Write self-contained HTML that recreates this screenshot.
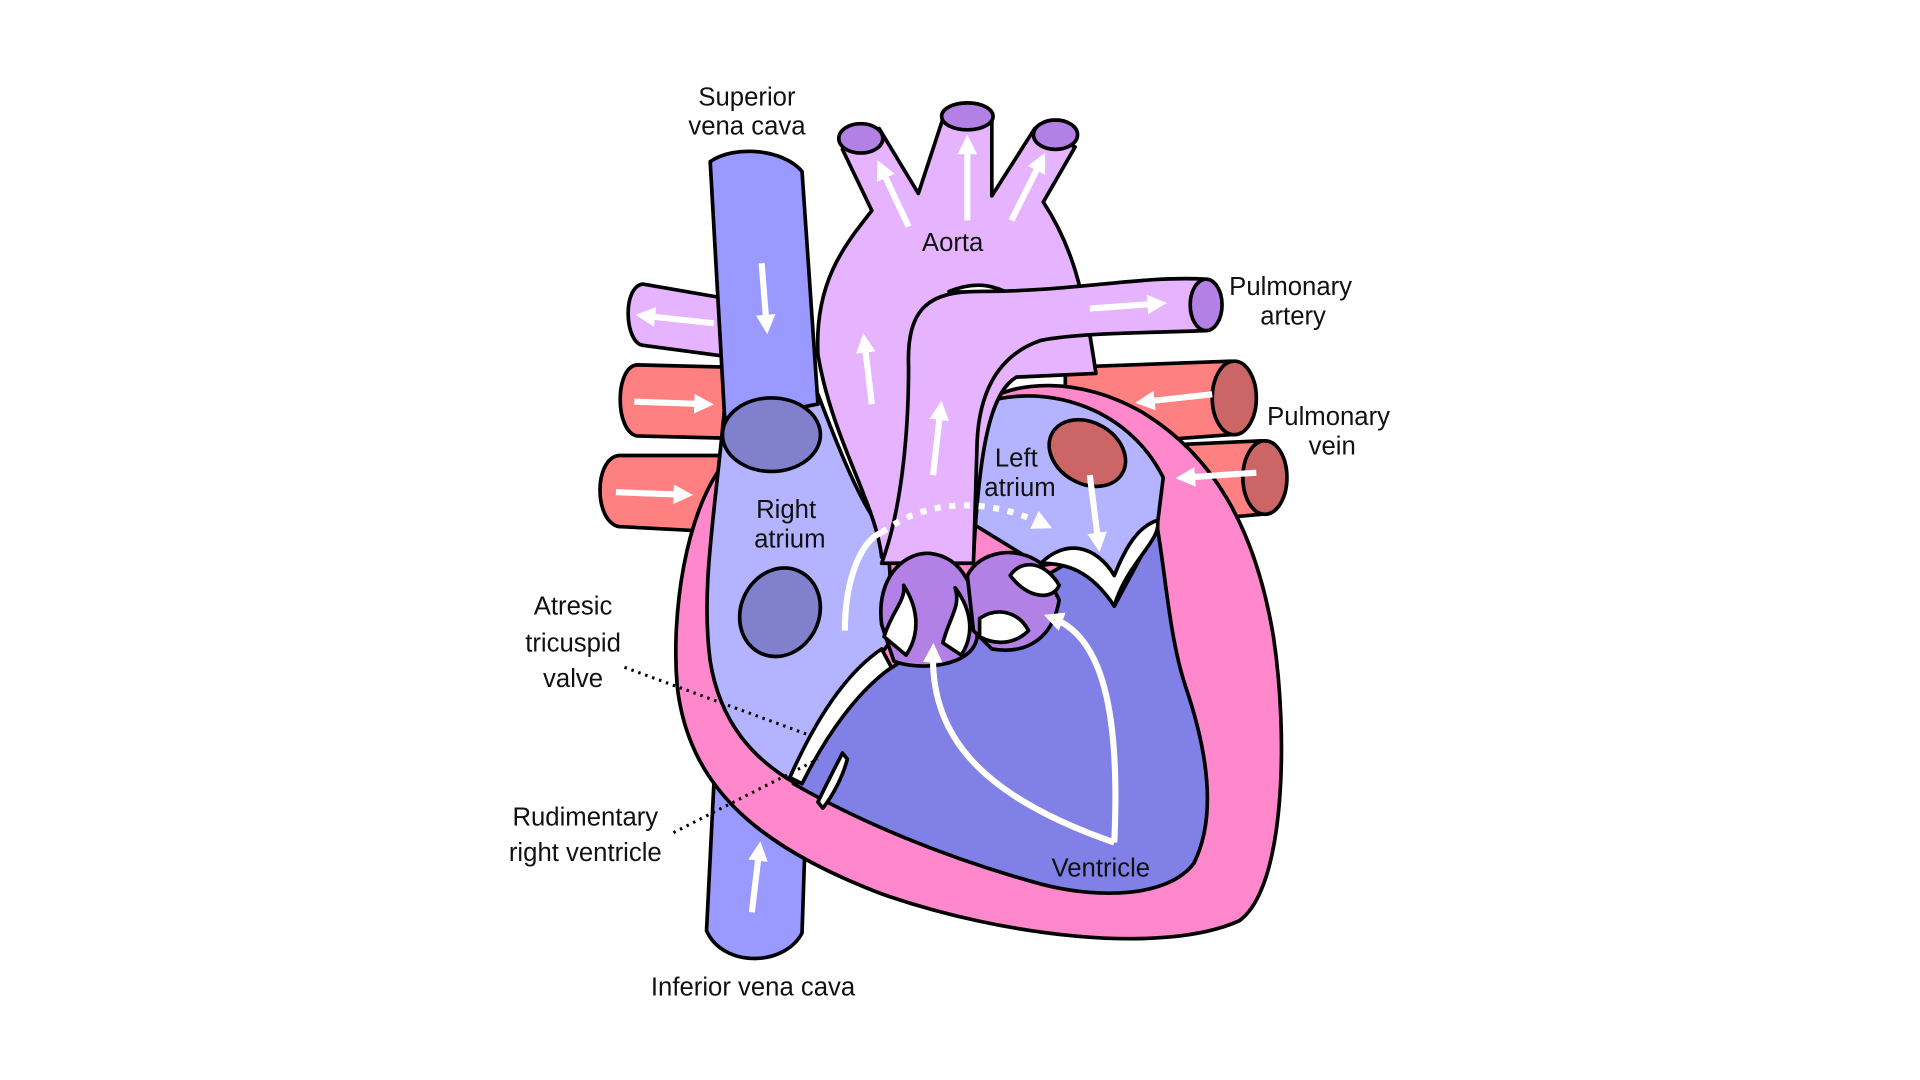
<!DOCTYPE html>
<html><head><meta charset="utf-8"><style>
html,body{margin:0;padding:0;background:#fff;width:1920px;height:1080px;overflow:hidden}
svg{display:block}
text{font-family:"Liberation Sans",sans-serif;font-size:21px;fill:#111}
</style></head><body>
<svg width="1920" height="1080" viewBox="0 0 1568 882" xmlns="http://www.w3.org/2000/svg">
<defs>
<marker id="a" viewBox="0 0 10 10" refX="5" refY="5" markerWidth="3.2" markerHeight="3.2" orient="auto"><path d="M0,0 L10,5 L0,10 Z" fill="#fff"/></marker>
</defs>
<g stroke="#000" stroke-width="3" stroke-linejoin="round">
<path d="M525,232 L600,245 L600,292 L525,282 C510,280 508,234 525,232 Z" fill="#e6b3ff"/>
<path d="M520,298 L600,300 L600,358 L520,356 C502,352 502,300 520,298 Z" fill="#ff8080"/>
<path d="M505,372 L600,372 L600,435 L505,430 C485,425 485,375 505,372 Z" fill="#ff8080"/>
<path d="M870,300 L1005,295 C1035,300 1030,355 1005,355 L870,365 Z" fill="#ff8080"/>
<ellipse cx="1008" cy="325" rx="18" ry="30" fill="#cc6666"/>
<path d="M920,365 L1030,360 C1058,368 1055,418 1030,420 L920,430 Z" fill="#ff8080"/>
<ellipse cx="1033" cy="390" rx="18" ry="30" fill="#cc6666"/>
<path d="M585,600 L660,610 L655,762 C640,790 590,790 577,760 Z" fill="#9999ff"/>
<path d="M590,380 C560,420 548,500 553,560 C562,640 615,690 720,730 C820,765 950,780 1012,752 C1050,725 1052,600 1040,520 C1025,430 990,370 930,335 C880,308 830,310 800,330 L720,420 Z" fill="#ff88cc"/>
<path d="M648,640 L700,565 C760,520 860,470 920,430 L945,430 C952,470 955,520 968,560 C985,610 995,665 975,705 C955,732 900,735 850,722 C770,700 700,670 648,640 Z" fill="#8080e6"/>
<path d="M800,330 C850,312 920,330 950,390 L945,430 L910,495 L890,455 L850,462 L790,425 Z" fill="#b3b3ff"/>
<path d="M592,330 L668,322 C690,380 705,415 725,440 L730,520 C700,560 670,600 650,640 C615,620 588,590 580,540 C572,480 584,420 592,330 Z" fill="#b3b3ff"/>
<path d="M580,132 C600,118 640,122 655,140 L668,330 L592,345 Z" fill="#9999ff"/>
<ellipse cx="630" cy="355" rx="40" ry="30" fill="#8080cc"/>
<ellipse cx="637" cy="500" rx="32" ry="37" transform="rotate(25 637 500)" fill="#8080cc"/>
<path d="M668,290 C665,230 690,200 712,172 L688,122 L718,105 L750,158 L770,97 L810,97 L810,160 L845,105 L878,120 L852,165 C875,200 885,235 895,305 L830,308 C810,320 800,360 795,455 L720,455 C715,410 680,360 668,290 Z" fill="#e6b3ff"/>
<ellipse cx="703" cy="113" rx="18" ry="12" fill="#b380e6"/>
<ellipse cx="790" cy="95" rx="21" ry="11" fill="#b380e6"/>
<ellipse cx="862" cy="110" rx="18" ry="12" fill="#b380e6"/>
<path d="M775,238 C800,228 815,235 825,240 Z" fill="#fff"/>
<path d="M742,300 C740,250 760,238 800,238 C880,238 930,225 985,228 L985,270 C930,272 880,272 850,278 C815,290 800,320 798,360 L795,460 L720,460 C735,420 742,360 742,300 Z" fill="#e6b3ff"/>
<ellipse cx="985" cy="249" rx="13" ry="21" fill="#b380e6"/>
<path d="M720,510 C715,470 740,450 760,452 C785,455 800,480 798,520 C795,545 750,548 730,540 Z" fill="#b380e6"/>
<path d="M790,470 C800,450 830,445 850,460 L865,490 C860,520 840,535 810,530 L795,515 Z" fill="#b380e6"/>
<path d="M722,520 C728,500 740,490 738,478 C752,500 750,520 740,535 Z" fill="#fff"/>
<path d="M770,525 C775,505 785,495 780,480 C795,500 795,520 785,535 Z" fill="#fff"/>
<path d="M800,505 C815,495 832,500 840,515 C830,525 815,528 800,520 Z" fill="#fff"/>
<path d="M825,470 C835,455 855,460 865,478 C860,490 840,490 825,470 Z" fill="#fff"/>
<path d="M850,460 C870,440 895,445 910,470 C920,445 930,430 945,425 C950,440 920,460 910,495 C890,465 870,460 850,460 Z" fill="#fff"/>
<ellipse cx="888" cy="370" rx="33" ry="25" transform="rotate(30 888 370)" fill="#cc6666"/>
<path d="M720,530 C690,550 665,590 645,635 L655,640 C675,600 700,565 728,545 Z" fill="#fff"/>
<path d="M668,655 C675,640 683,625 688,615 L692,620 C688,635 680,650 672,660 Z" fill="#fff"/>
</g>
<g stroke="#fff" stroke-width="5" fill="none" marker-end="url(#a)">
<line x1="622" y1="215" x2="626" y2="265"/>
<line x1="583" y1="264" x2="527" y2="258"/>
<line x1="518" y1="328" x2="575" y2="330"/>
<line x1="503" y1="402" x2="558" y2="404"/>
<line x1="614" y1="745" x2="620" y2="695"/>
<line x1="712" y1="330" x2="706" y2="280"/>
<line x1="742" y1="185" x2="720" y2="138"/>
<line x1="790" y1="180" x2="790" y2="118"/>
<line x1="826" y1="180" x2="850" y2="132"/>
<line x1="762" y1="388" x2="768" y2="335"/>
<line x1="890" y1="252" x2="945" y2="248"/>
<line x1="990" y1="322" x2="935" y2="328"/>
<line x1="1026" y1="386" x2="968" y2="390"/>
<line x1="890" y1="388" x2="897" y2="443"/>
<path d="M690,515 C690,470 705,440 720,435" marker-end="none"/>
<path d="M720,435 C760,405 810,408 852,428" stroke-dasharray="5,7"/>
<path d="M910,688 C915,580 900,520 860,505"/>
<path d="M910,688 C800,650 760,600 762,533"/>
</g>
<g stroke="#000" stroke-width="2.5" stroke-dasharray="2,4">
<line x1="510" y1="545" x2="660" y2="600"/>
<line x1="550" y1="680" x2="668" y2="620"/>
</g>
<text x="610" y="86" text-anchor="middle">Superior</text>
<text x="610" y="110" text-anchor="middle">vena cava</text>
<text x="778" y="205" text-anchor="middle">Aorta</text>
<text x="1054" y="241" text-anchor="middle">Pulmonary</text>
<text x="1056" y="265" text-anchor="middle">artery</text>
<text x="1085" y="347" text-anchor="middle">Pulmonary</text>
<text x="1088" y="371" text-anchor="middle">vein</text>
<text x="642" y="423" text-anchor="middle">Right</text>
<text x="645" y="447" text-anchor="middle">atrium</text>
<text x="830" y="381" text-anchor="middle">Left</text>
<text x="833" y="405" text-anchor="middle">atrium</text>
<text x="468" y="502" text-anchor="middle">Atresic</text>
<text x="468" y="532" text-anchor="middle">tricuspid</text>
<text x="468" y="561" text-anchor="middle">valve</text>
<text x="478" y="674" text-anchor="middle">Rudimentary</text>
<text x="478" y="703" text-anchor="middle">right ventricle</text>
<text x="899" y="716" text-anchor="middle">Ventricle</text>
<text x="615" y="813" text-anchor="middle">Inferior vena cava</text>
</svg>
</body></html>
